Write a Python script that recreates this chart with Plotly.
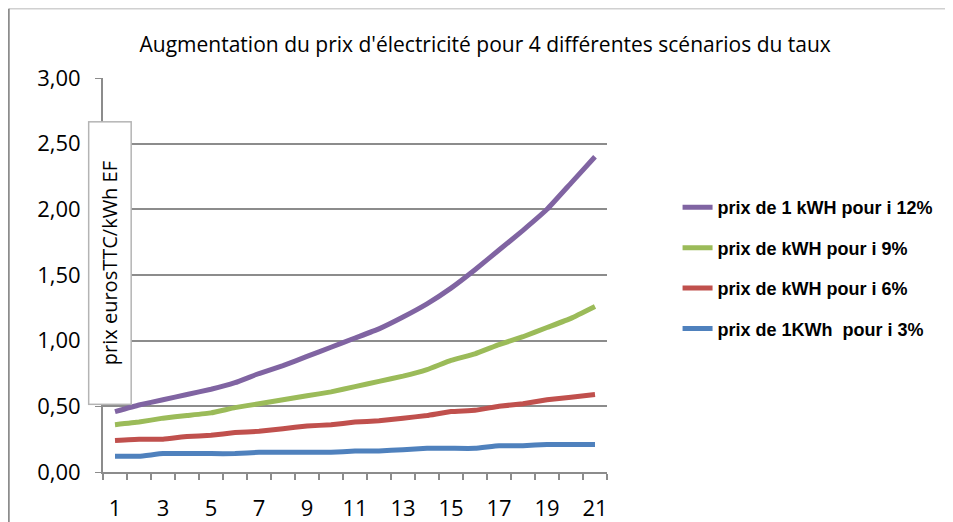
import plotly.graph_objects as go

annees = list(range(1, 22))
prix_3 = [0.12, 0.12, 0.14, 0.14, 0.14, 0.14, 0.15, 0.15, 0.15, 0.15, 0.16,
          0.16, 0.17, 0.18, 0.18, 0.18, 0.20, 0.20, 0.21, 0.21, 0.21]
prix_6 = [0.24, 0.25, 0.25, 0.27, 0.28, 0.30, 0.31, 0.33, 0.35, 0.36, 0.38,
          0.39, 0.41, 0.43, 0.46, 0.47, 0.50, 0.52, 0.55, 0.57, 0.59]
prix_9 = [0.36, 0.38, 0.41, 0.43, 0.45, 0.49, 0.52, 0.55, 0.58, 0.61, 0.65,
          0.69, 0.73, 0.78, 0.85, 0.90, 0.97, 1.03, 1.10, 1.17, 1.26]
prix_12 = [0.46, 0.51, 0.55, 0.59, 0.63, 0.68, 0.75, 0.81, 0.88, 0.95, 1.02,
           1.09, 1.18, 1.28, 1.40, 1.54, 1.69, 1.84, 2.00, 2.20, 2.40]

series = [
    ('prix de 1 kWH pour i 12%', prix_12, '#8064A2'),
    ('prix de kWH pour i 9%', prix_9, '#9BBB59'),
    ('prix de kWH pour i 6%', prix_6, '#C0504D'),
    ('prix de 1KWh  pour i 3%', prix_3, '#4F81BD'),
]

fig = go.Figure()
for i, (nom, vals, couleur) in enumerate(series):
    fig.add_trace(go.Scatter(x=annees, y=vals, name=nom, mode='lines',
                             legendgroup=str(i),
                             line=dict(color=couleur, width=5, shape='spline', smoothing=0.3)))

grid = '#8c8c8c'
# la page a une marge de 8px : figure un peu plus petite que la fenetre
fig.update_layout(
    width=945, height=514,
    margin=dict(l=95, r=346, t=70, b=50, autoexpand=False),
    paper_bgcolor='white', plot_bgcolor='white',
    separators=', ',
    font=dict(family='Open Sans', color='black'),
    title=dict(text="Augmentation du prix d'électricité pour 4 différentes scénarios du taux",
               x=0.505, xanchor='center', xref='container',
               y=0.928, yanchor='middle', yref='container',
               font=dict(size=21, family='Open Sans', color='black')),
    legend=dict(x=1.14, xanchor='left', y=0.718, yanchor='top',
                traceorder='grouped', tracegroupgap=14,
                font=dict(size=18, color='black', family='Liberation Sans', weight='bold'),
                bgcolor='rgba(0,0,0,0)'),
    showlegend=True,
)

fig.update_xaxes(range=[0.5, 21.5], tickvals=annees[::2], ticks='', showgrid=False,
                 showline=True, linecolor=grid, linewidth=2, automargin=False,
                 tickfont=dict(size=22, family='Open Sans'), ticklabelstandoff=16,
                 minor=dict(tick0=0.5, dtick=1, ticks='outside', ticklen=6,
                            tickcolor=grid, tickwidth=1.5, showgrid=False),
                 zeroline=False)
fig.update_yaxes(range=[0, 3], dtick=0.5, tickformat='.2f', showgrid=True,
                 gridcolor=grid, gridwidth=1.5, showline=True, linecolor=grid,
                 linewidth=2, ticks='outside', ticklen=6, tickcolor=grid,
                 tickfont=dict(size=22, family='Open Sans'), ticklabelstandoff=10,
                 zeroline=False, automargin=False)

# cadre de la zone graphique
fig.add_shape(type='line', xref='paper', yref='paper', x0=-0.187, x1=1.75,
              y0=1.176, y1=1.176, line=dict(color='#d0d0d0', width=1.5))
fig.add_shape(type='line', xref='paper', yref='paper', x0=-0.187, x1=-0.187,
              y0=1.176, y1=-0.2, line=dict(color='#8c8c8c', width=2))

# titre de l'axe vertical dans un cadre
fig.add_annotation(text='prix eurosTTC/kWh EF', xref='paper', yref='paper',
                   x=0.0129, y=0.529, xanchor='center', yanchor='middle',
                   showarrow=False, textangle=-90, width=279, height=39,
                   bgcolor='white', bordercolor='#b4b4b4', borderwidth=1.5,
                   font=dict(size=20, family='Open Sans', color='black'))

fig.write_html('out.html')
